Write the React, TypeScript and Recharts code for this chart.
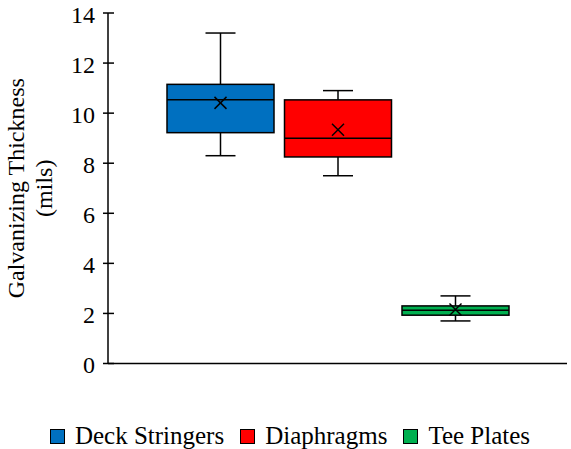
import React from 'react';
import { BarChart, Bar, XAxis, YAxis, Legend } from 'recharts';

const groups = ['Deck Stringers', 'Diaphragms', 'Tee Plates'];
const minVals = [8.3, 7.5, 1.7];
const q1Vals = [9.22, 8.25, 1.93];
const medianVals = [10.53, 9.0, 2.13];
const q3Vals = [11.15, 10.53, 2.3];
const maxVals = [13.2, 10.9, 2.7];
const meanVals = [10.41, 9.34, 2.16];
const yTicks = [0, 2, 4, 6, 8, 10, 12, 14];
const colors = ['#0070C0', '#FF0000', '#00B050'];

const FONT = "'Liberation Serif', 'DejaVu Serif', serif";

// one category, each series holds its whisker top so the bar spans 0..max on the y scale
const chartData = [
  groups.reduce((row: any, g, i) => {
    row['s' + i] = maxVals[i];
    return row;
  }, { name: 'all' }),
];

const boxShape = (i: number) => (props: any) => {
  const { x, y, width, height } = props;
  const base = y + height;
  const toPx = (v: number) => base - (height * v) / maxVals[i];
  const cx = x + width / 2;
  const top = toPx(maxVals[i]);
  const bottom = toPx(minVals[i]);
  const q1 = toPx(q1Vals[i]);
  const q3 = toPx(q3Vals[i]);
  const med = toPx(medianVals[i]);
  const mean = toPx(meanVals[i]);
  const cap = 15;
  const m = 6;
  return (
    <g stroke="#000" strokeWidth={1.5}>
      <line x1={cx} x2={cx} y1={top} y2={q3} />
      <line x1={cx} x2={cx} y1={q1} y2={bottom} />
      <line x1={cx - cap} x2={cx + cap} y1={top} y2={top} />
      <line x1={cx - cap} x2={cx + cap} y1={bottom} y2={bottom} />
      <rect x={x} y={q3} width={width} height={q1 - q3} fill={colors[i]} />
      <line x1={x} x2={x + width} y1={med} y2={med} />
      <line x1={cx - m} x2={cx + m} y1={mean - m} y2={mean + m} />
      <line x1={cx - m} x2={cx + m} y1={mean + m} y2={mean - m} />
    </g>
  );
};

const YTick = (props: any) => {
  const { x, y, payload } = props;
  return (
    <g>
      <line x1={x + 8} x2={x + 19} y1={y} y2={y} stroke="#000" strokeWidth={1.5} />
      <text x={x} y={y} dy={9.5} textAnchor="end" fontFamily={FONT} fontSize={24} fill="#000">
        {payload.value}
      </text>
    </g>
  );
};

const YLabel = (props: any) => {
  const { viewBox } = props;
  const cy = viewBox.y + viewBox.height / 2;
  return (
    <g fontFamily={FONT} fontSize={24} fill="#000">
      <text x={24} y={cy} textAnchor="middle" transform={`rotate(-90, 24, ${cy})`}>
        Galvanizing Thickness
      </text>
      <text x={52} y={cy} textAnchor="middle" transform={`rotate(-90, 52, ${cy})`}>
        (mils)
      </text>
    </g>
  );
};

const LegendBox = () => (
  <div
    style={{
      display: 'flex',
      justifyContent: 'center',
      alignItems: 'center',
      height: 26,
      paddingLeft: 9,
      fontFamily: FONT,
      fontSize: 25,
      color: '#000',
    }}
  >
    {groups.map((g, i) => (
      <div key={g} style={{ display: 'flex', alignItems: 'center', marginRight: i < groups.length - 1 ? 16 : 0 }}>
        <span
          style={{
            display: 'inline-block',
            width: 13,
            height: 13,
            background: colors[i],
            border: '1px solid #000',
            marginRight: 10,
          }}
        />
        <span>{g}</span>
      </div>
    ))}
  </div>
);

export default function App() {
  return (
    <div style={{ position: 'absolute', left: 0, top: 0, background: '#fff' }}>
      <BarChart
        width={571}
        height={449}
        data={chartData}
        margin={{ top: 13, right: 4, left: 0, bottom: 58.5 }}
        barSize={107}
        barGap={10.5}
      >
        <XAxis dataKey="name" tick={false} tickLine={false} height={1} axisLine={{ stroke: '#000', strokeWidth: 1.5 }} />
        <YAxis
          width={108}
          domain={[0, 14]}
          ticks={yTicks}
          interval={0}
          tickLine={false}
          tickSize={5}
          tickMargin={8}
          tick={<YTick />}
          axisLine={{ stroke: '#000', strokeWidth: 1.5 }}
          label={{ content: (p: any) => <YLabel {...p} /> }}
        />
        {groups.map((g, i) => (
          <Bar key={g} dataKey={'s' + i} name={g} fill={colors[i]} shape={boxShape(i)} isAnimationActive={false} />
        ))}
        <Legend
          verticalAlign="bottom"
          content={() => <LegendBox />}
          wrapperStyle={{ left: 0, bottom: 0, width: 571, height: 26 }}
        />
      </BarChart>
    </div>
  );
}
